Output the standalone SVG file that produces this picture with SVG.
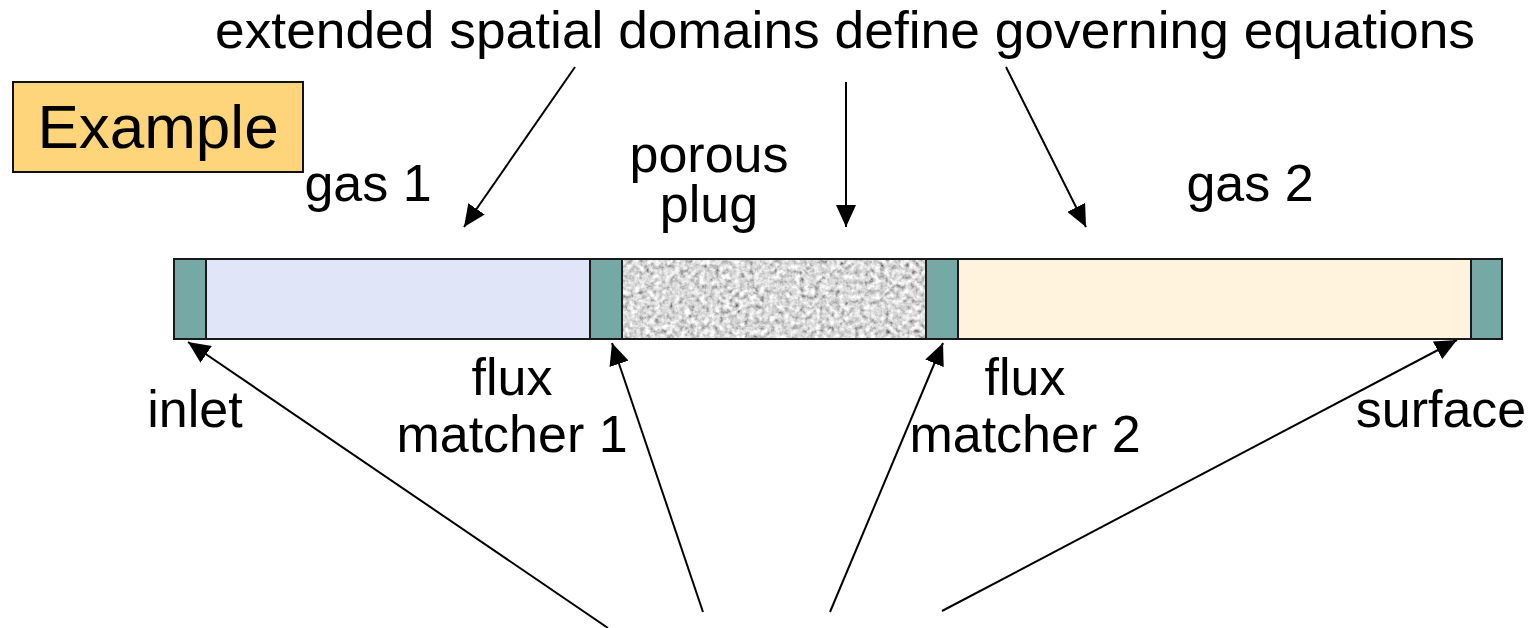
<svg xmlns="http://www.w3.org/2000/svg" width="1532" height="628" viewBox="0 0 1532 628">
  <style>
    .lbl { font-family: "Liberation Sans", Arial, sans-serif; font-size: 52px; fill: #000; }
    .seg { stroke: #1a1a1a; stroke-width: 2; }
    .cap { fill: #76A9A6; stroke: #1a1a1a; stroke-width: 2; }
    .conn { stroke: #000; stroke-width: 2; fill: none; marker-end: url(#head); }
  </style>
  <defs>
    <marker id="head" markerUnits="userSpaceOnUse" markerWidth="24" markerHeight="20" refX="22" refY="10" orient="auto">
      <path d="M0,0 L22,10 L0,20 Z" fill="#000"/>
    </marker>
    <!-- speckled grey texture for the porous plug -->
    <filter id="grain" x="0" y="0" width="100%" height="100%">
      <feTurbulence type="fractalNoise" baseFrequency="0.2" numOctaves="3" seed="11" result="n"/>
      <feColorMatrix in="n" type="matrix" values="0.33 0.33 0.33 0 0  0.33 0.33 0.33 0 0  0.33 0.33 0.33 0 0  0 0 0 0 1" result="g"/>
      <feComponentTransfer in="g">
        <feFuncR type="gamma" amplitude="1" exponent="0.55" offset="0"/>
        <feFuncG type="gamma" amplitude="1" exponent="0.55" offset="0"/>
        <feFuncB type="gamma" amplitude="1" exponent="0.55" offset="0"/>
      </feComponentTransfer>
      <feComponentTransfer>
        <feFuncR type="linear" slope="2.8" intercept="-1.2"/>
        <feFuncG type="linear" slope="2.8" intercept="-1.2"/>
        <feFuncB type="linear" slope="2.8" intercept="-1.2"/>
      </feComponentTransfer>
      <feGaussianBlur stdDeviation="0.6"/>
    </filter>
  </defs>

  <rect width="1532" height="628" fill="#fff"/>

  <text class="lbl" x="215" y="48" textLength="1260" lengthAdjust="spacingAndGlyphs">extended spatial domains define governing equations</text>

  <g id="example">
    <rect x="13" y="82" width="290" height="90" fill="#FED57A" stroke="#111" stroke-width="2"/>
    <text x="158" y="148" text-anchor="middle" style="font-family:'Liberation Sans',Arial,sans-serif;font-size:62px">Example</text>
  </g>

  <g id="gas1">
    <rect class="seg" x="206" y="259" width="384" height="80" fill="#E0E6F8"/>
    <text class="lbl" x="368" y="201" text-anchor="middle">gas 1</text>
  </g>
  <g id="porous-plug">
    <rect x="622" y="259" width="304" height="80" fill="#bbb" filter="url(#grain)"/>
    <rect x="622" y="259" width="304" height="80" fill="none" stroke="#1a1a1a" stroke-width="2"/>
    <text class="lbl" x="709" y="172" text-anchor="middle">porous</text>
    <text class="lbl" x="709" y="222" text-anchor="middle">plug</text>
  </g>
  <g id="gas2">
    <rect class="seg" x="958" y="259" width="513" height="80" fill="#FFF3DE"/>
    <text class="lbl" x="1250" y="201" text-anchor="middle">gas 2</text>
  </g>

  <g id="inlet">
    <rect class="cap" x="174" y="259" width="32" height="80"/>
    <text class="lbl" x="195" y="427" text-anchor="middle">inlet</text>
  </g>
  <g id="flux-matcher-1">
    <rect class="cap" x="590" y="259" width="32" height="80"/>
    <text class="lbl" x="512" y="395" text-anchor="middle">flux</text>
    <text class="lbl" x="512" y="452" text-anchor="middle">matcher 1</text>
  </g>
  <g id="flux-matcher-2">
    <rect class="cap" x="926" y="259" width="32" height="80"/>
    <text class="lbl" x="1025" y="395" text-anchor="middle">flux</text>
    <text class="lbl" x="1025" y="452" text-anchor="middle">matcher 2</text>
  </g>
  <g id="surface">
    <rect class="cap" x="1471" y="259" width="31" height="80"/>
    <text class="lbl" x="1441" y="427" text-anchor="middle">surface</text>
  </g>

  <g id="connectors">
    <line class="conn" x1="575" y1="67" x2="464" y2="227"/>
    <line class="conn" x1="846" y1="82" x2="846" y2="227"/>
    <line class="conn" x1="1006" y1="67" x2="1086" y2="227"/>
    <line class="conn" x1="608" y1="628" x2="188" y2="342"/>
    <line class="conn" x1="703" y1="612" x2="612" y2="343"/>
    <line class="conn" x1="830" y1="612" x2="943" y2="343"/>
    <line class="conn" x1="942" y1="611" x2="1457" y2="340"/>
  </g>
</svg>
